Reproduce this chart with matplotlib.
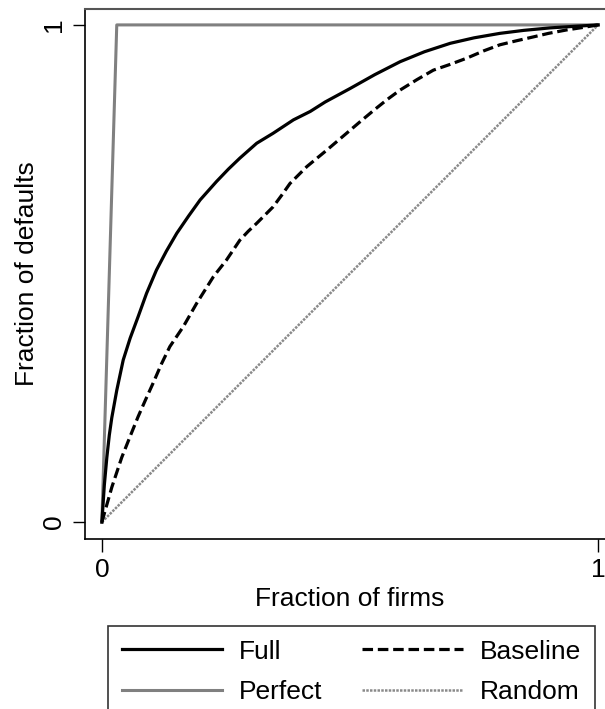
import matplotlib
matplotlib.use("Agg")
import matplotlib.pyplot as plt

plt.rcParams['font.family'] = ['Liberation Sans', 'DejaVu Sans']

# CAP curves
full_x = [0, 0.005, 0.01, 0.015, 0.02, 0.03, 0.043, 0.057, 0.073, 0.09, 0.11,
          0.13, 0.151, 0.175, 0.198, 0.231, 0.255, 0.278, 0.312, 0.345, 0.386,
          0.42, 0.45, 0.5, 0.55, 0.601, 0.65, 0.702, 0.75, 0.802, 0.85, 0.903,
          0.95, 1.0]
full_y = [0, 0.075, 0.13, 0.175, 0.21, 0.265, 0.326, 0.37, 0.413, 0.46, 0.507,
          0.545, 0.581, 0.616, 0.648, 0.685, 0.71, 0.732, 0.762, 0.782, 0.809,
          0.826, 0.845, 0.872, 0.90, 0.926, 0.946, 0.963, 0.974, 0.983, 0.989,
          0.994, 0.997, 1.0]

base_x = [0, 0.01, 0.02, 0.03, 0.04, 0.05, 0.06, 0.073, 0.088, 0.103, 0.12,
          0.137, 0.164, 0.191, 0.208, 0.225, 0.251, 0.278, 0.295, 0.312, 0.345,
          0.362, 0.379, 0.413, 0.453, 0.493, 0.52, 0.55, 0.575, 0.601, 0.635,
          0.668, 0.70, 0.735, 0.77, 0.802, 0.835, 0.87, 0.90, 0.937, 0.97, 1.0]
base_y = [0, 0.035, 0.07, 0.10, 0.13, 0.155, 0.18, 0.212, 0.246, 0.279, 0.318,
          0.353, 0.393, 0.44, 0.467, 0.494, 0.527, 0.567, 0.585, 0.601, 0.634,
          0.657, 0.681, 0.715, 0.748, 0.782, 0.805, 0.83, 0.85, 0.869, 0.89,
          0.909, 0.92, 0.933, 0.948, 0.96, 0.968, 0.976, 0.983, 0.99, 0.995, 1.0]

perfect_x = [0, 0.03, 1]
perfect_y = [0, 1, 1]

random_x = [0, 1]
random_y = [0, 1]

W, H = 605, 709
fig = plt.figure(figsize=(W / 100, H / 100), dpi=100)
ax = fig.add_axes([85 / W, 1 - 539 / H, (615 - 85) / W, (539 - 9) / H])

ax.plot(random_x, random_y, color='#8a8a8a', lw=1.8, ls=(0, (1, 0.5)), label='Random')
ax.plot(perfect_x, perfect_y, color='#808080', lw=2.2, label='Perfect')
ax.plot(base_x, base_y, color='black', lw=2.3, ls=(0, (3.3, 1.5)), label='Baseline',
        solid_joinstyle='round')
ax.plot(full_x, full_y, color='black', lw=2.3, label='Full', solid_joinstyle='round')

ax.set_xlim(-0.034, 1.034)
ax.set_ylim(-0.034, 1.032)
ax.set_xticks([0, 1])
ax.set_yticks([0, 1])
ax.set_xticklabels(['0', '1'], fontsize=19)
ax.set_yticklabels(['0', '1'], fontsize=19, rotation=90, va='center')
ax.tick_params(length=9, width=1, color='black', pad=5)
ax.set_xlabel('Fraction of firms', fontsize=19, labelpad=3)
ax.set_ylabel('Fraction of defaults', fontsize=19, labelpad=2)

for s in ['left', 'bottom']:
    ax.spines[s].set_color('black')
    ax.spines[s].set_linewidth(1.2)
ax.spines['top'].set_color('#555555')
ax.spines['top'].set_linewidth(1.5)
ax.spines['right'].set_visible(False)

h = {l.get_label(): l for l in ax.get_lines()}
order = ['Full', 'Perfect', 'Baseline', 'Random']
leg = fig.legend([h[k] for k in order], order, loc='upper left',
                 bbox_to_anchor=(108 / W, 1 - 626 / H), ncol=2, fontsize=19,
                 frameon=True, fancybox=False, edgecolor='black',
                 handlelength=3.8, handletextpad=0.65, columnspacing=1.5,
                 labelspacing=0.61, borderpad=0.52, borderaxespad=0)
leg.get_frame().set_linewidth(1.2)

fig.savefig('out.png', dpi=100)
